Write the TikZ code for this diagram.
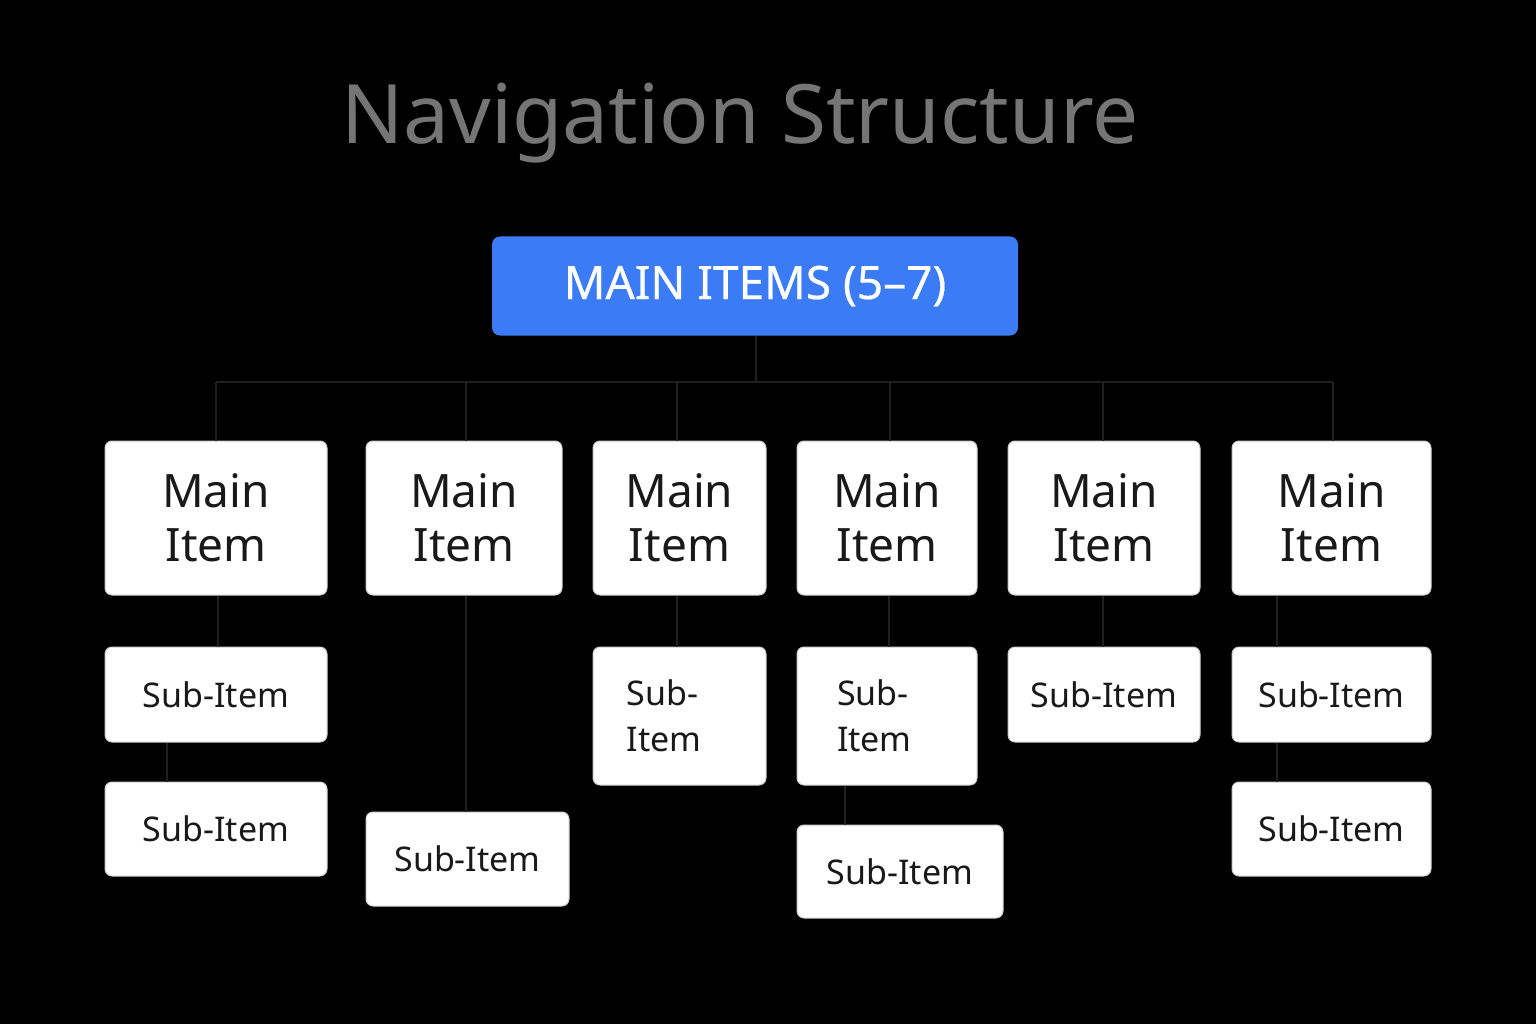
\documentclass[tikz,border=0pt]{standalone}
\usepackage{fontspec}
\setmainfont{Noto Sans}
\begin{document}
\begin{tikzpicture}[x=1pt,y=-1pt,
 box/.style={draw=gray!40,line width=1pt,fill=white,rounded corners=7pt,inner sep=0pt,align=center,text=black!90},
 mainb/.style={box,font=\fontsize{46}{54}\selectfont},
 subb/.style={box,font=\fontsize{34}{46}\selectfont},
 ln/.style={draw=black!75!gray,line width=2pt}]
\fill[black] (0,0) rectangle (1536,1024);
\useasboundingbox (0,0) rectangle (1536,1024);
\node[text=black!80!gray!60, font=\bfseries\fontsize{82}{90}\selectfont] (title) at (740,123) {Navigation Structure};
\node[fill=blue!55!cyan!70!black!0,fill={rgb,255:red,59;green,123;blue,246},rounded corners=8pt,minimum width=526pt,minimum height=99pt,text=white,font=\fontsize{46}{54}\selectfont\addfontfeature{FakeBold=0.5}] (top) at (755,286) {MAIN ITEMS (5–7)};
% main items
\foreach \n/\a/\b in {m1/105/327,m2/366/562,m3/593/766,m4/797/977,m5/1008/1200,m6/1232/1431}{
 \pgfmathsetmacro\w{\b-\a}\pgfmathsetmacro\c{(\a+\b)/2}
 \node[mainb,minimum width=\w pt,minimum height=154pt] (\n) at (\c,518) {Main\\Item};}
% sub items
\node[subb,minimum width=222pt,minimum height=95pt] (s1a) at (216,694.5) {Sub-Item};
\node[subb,minimum width=222pt,minimum height=94pt] (s1b) at (216,829) {Sub-Item};
\node[subb,minimum width=203pt,minimum height=94pt] (s2a) at (467.5,859) {Sub-Item};
\node[subb,minimum width=173pt,minimum height=138pt,text width=150pt,align=left] (s3a) at (679.5,716) {\hspace*{22pt}Sub-\\\hspace*{22pt}Item};
\node[subb,minimum width=180pt,minimum height=138pt,text width=150pt,align=left] (s4a) at (887,716) {\hspace*{25pt}Sub-\\\hspace*{25pt}Item};
\node[subb,minimum width=206pt,minimum height=93pt] (s4b) at (900,871.5) {Sub-Item};
\node[subb,minimum width=192pt,minimum height=95pt] (s5a) at (1104,694.5) {Sub-Item};
\node[subb,minimum width=199pt,minimum height=95pt] (s6a) at (1331.5,694.5) {Sub-Item};
\node[subb,minimum width=199pt,minimum height=94pt] (s6b) at (1331.5,829) {Sub-Item};
% bus
\coordinate (bl) at (216,382); \coordinate (br) at (1333,382); \coordinate (bm) at (756,382);
\draw[ln] (top.south -| bm) -- (bm);
\draw[ln] (bl) -- (br);
\foreach \n/\x in {m1/216,m2/466,m3/677,m4/890,m5/1103,m6/1333}{
 \draw[ln] (\x,382) -- (\n.north -| \x,0);}
% sub connectors
\draw[ln] (m1.south -| 218,0) -- (s1a.north -| 218,0);
\draw[ln] (s1a.south -| 167,0) -- (s1b.north -| 167,0);
\draw[ln] (m2.south -| 466,0) -- (s2a.north -| 466,0);
\draw[ln] (m3.south -| 677,0) -- (s3a.north -| 677,0);
\draw[ln] (m4.south -| 889,0) -- (s4a.north -| 889,0);
\draw[ln] (s4a.south -| 845,0) -- (s4b.north -| 845,0);
\draw[ln] (m5.south -| 1103,0) -- (s5a.north -| 1103,0);
\draw[ln] (m6.south -| 1277,0) -- (s6a.north -| 1277,0);
\draw[ln] (s6a.south -| 1277,0) -- (s6b.north -| 1277,0);
\end{tikzpicture}
\end{document}
